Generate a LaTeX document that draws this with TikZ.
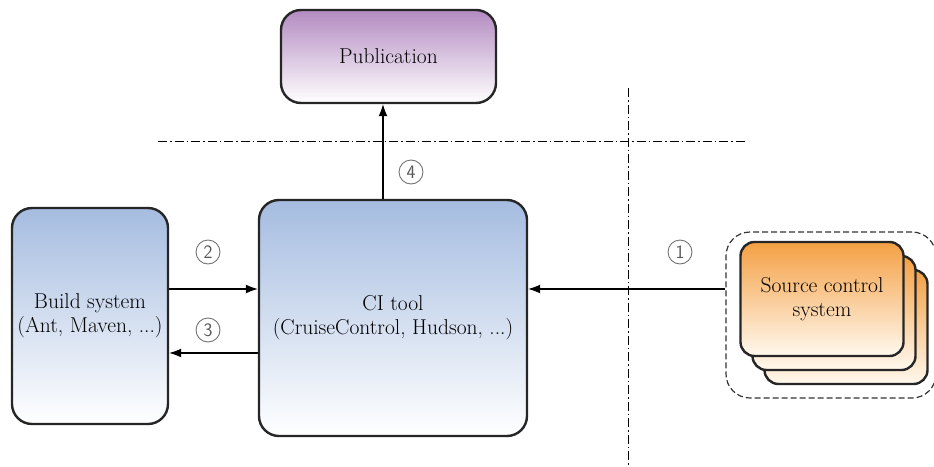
\documentclass[tikz,border=0pt]{standalone}
\usepackage{fontspec}
\usetikzlibrary{arrows.meta,positioning,shadings}

\definecolor{pubtop}{HTML}{B38BC1}
\definecolor{citop}{HTML}{A5BCE0}
\definecolor{srctop}{HTML}{F4A043}
\definecolor{srcbot}{HTML}{FFF8EE}

\tikzset{
  box/.style={draw=black!85, line width=2.4pt, rounded corners=20pt, align=center,
              font=\rmfamily\fontsize{21.5}{24}\selectfont, inner sep=0pt},
  pubbox/.style={box, top color=pubtop, bottom color=white},
  cibox/.style={box, top color=citop, bottom color=white},
  srcbox/.style={box, rounded corners=14pt, top color=srctop, bottom color=srcbot},
  arr/.style={line width=1.1pt, -{Latex[length=12pt,width=9pt]}},
  sep/.style={line width=1pt, dash pattern=on 9pt off 3pt on 1.5pt off 3pt},
  num/.style={circle, draw=black!55, line width=0.9pt, minimum size=24pt, inner sep=0pt,
              font=\sffamily\fontsize{19}{19}\selectfont, text=black!65}
}

\begin{document}
\begin{tikzpicture}[x=1pt,y=-1pt]
\useasboundingbox (0,0) rectangle (934,466);

% Trennlinien
\draw[sep] (158,141) -- (745,141);
\draw[sep] (628,88) -- (628,466);

% Kaesten
\node[pubbox, minimum width=215pt, minimum height=93pt] (pub) at (388.5,56.5) {Publication};
\node[cibox, minimum width=268pt, minimum height=236pt] (ci) at (393,318) {CI tool\\(CruiseControl, Hudson, ...)};
\node[cibox, minimum width=156pt, minimum height=216pt] (build) at (90,316) {Build system\\(Ant, Maven, ...)};

% Quellcodeverwaltung (gestapelt)
\node[draw=black!80, line width=1.2pt, dash pattern=on 6pt off 3pt, rounded corners=24pt,
      minimum width=210pt, minimum height=166pt] (src) at (831,315) {};
\node[srcbox, minimum width=163pt, minimum height=114pt] (s3) at (846,327) {};
\node[srcbox, minimum width=163pt, minimum height=114pt] (s2) at (834,313) {};
\node[srcbox, minimum width=163pt, minimum height=114pt] (s1) at (822,299) {Source control\\system};

% Hilfspunkte
\coordinate (c4) at (383,0);
\coordinate (c2) at (0,289);
\coordinate (c3) at (0,353);

% Verbindungen
\draw[arr] (ci.north -| c4) -- (pub.south -| c4);
\draw[arr] (build.east |- c2) -- (ci.west |- c2);
\draw[arr] (ci.west |- c3) -- (build.east |- c3);
\draw[arr] (src.west |- c2) -- (ci.east |- c2);

% Nummern
\node[num] (n1) at (680,252) {1};
\node[num] (n2) at (208,252) {2};
\node[num] (n3) at (208,330) {3};
\node[num] (n4) at (411,172) {4};

\end{tikzpicture}
\end{document}
